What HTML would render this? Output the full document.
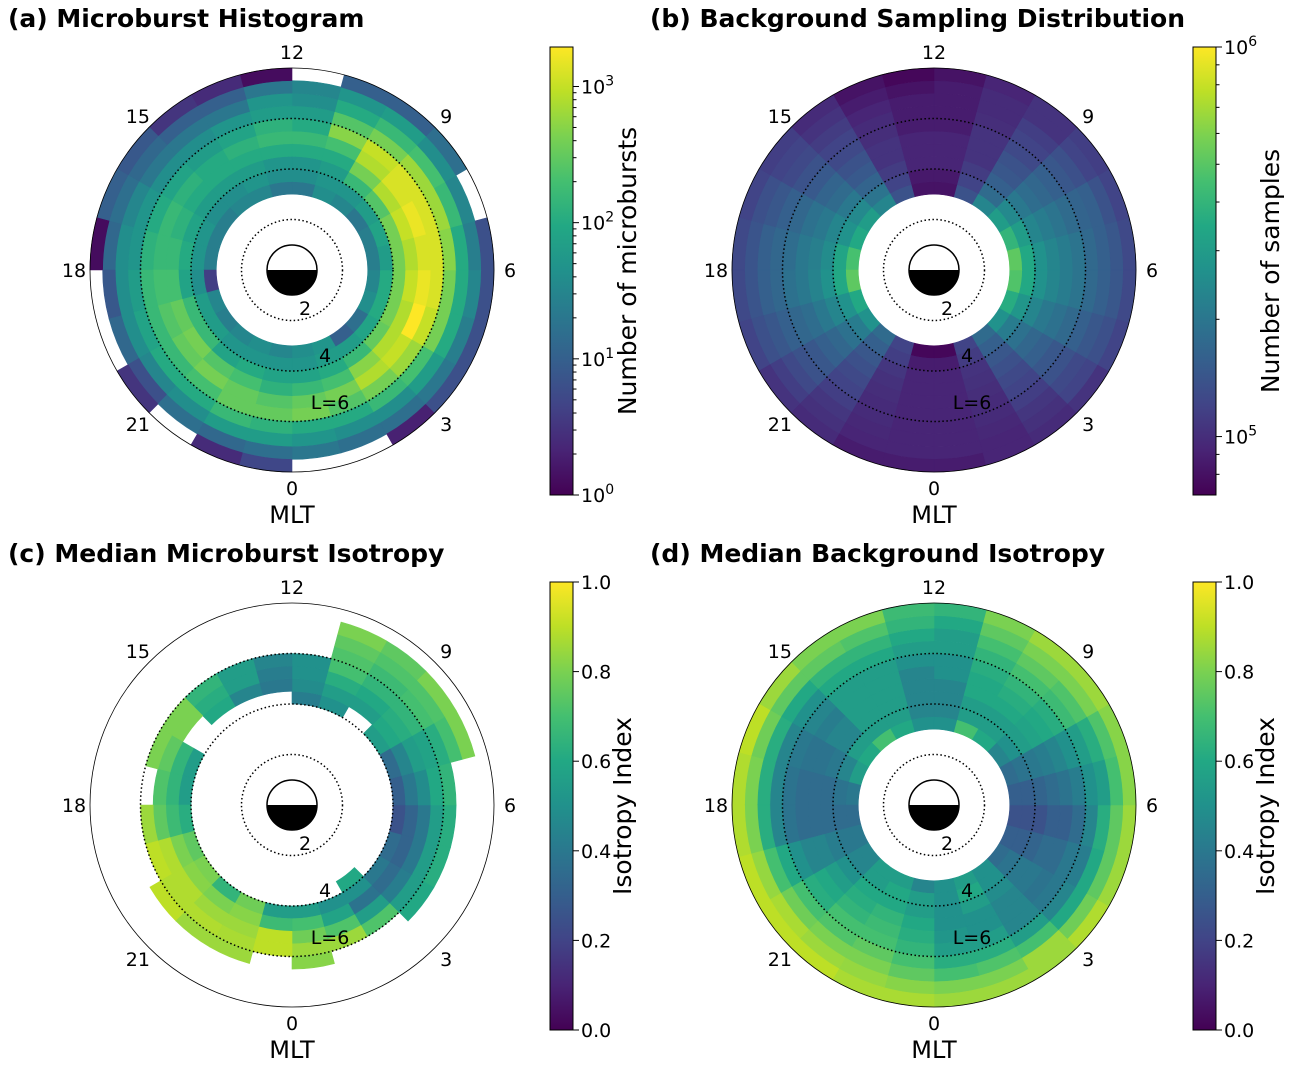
<!DOCTYPE html>
<html><head><meta charset="utf-8"><style>
html,body{margin:0;padding:0;background:#fff}
svg{display:block;font-family:"DejaVu Sans","Liberation Sans",sans-serif}
</style></head><body>
<svg id="fig" width="1292" height="1068" viewBox="0 0 1292 1068" xmlns="http://www.w3.org/2000/svg">
<defs>
<linearGradient id="viridis" x1="0" y1="1" x2="0" y2="0">
<stop offset="0" stop-color="#440154"/><stop offset="0.1" stop-color="#482475"/><stop offset="0.2" stop-color="#414487"/><stop offset="0.3" stop-color="#355f8d"/><stop offset="0.4" stop-color="#2a788e"/><stop offset="0.5" stop-color="#21918c"/><stop offset="0.6" stop-color="#22a884"/><stop offset="0.7" stop-color="#44bf70"/><stop offset="0.8" stop-color="#7ad151"/><stop offset="0.9" stop-color="#bddf26"/><stop offset="1" stop-color="#fde725"/>
</linearGradient>
</defs>
</svg>
<script>
// ---- data: rows indexed by MLT bin (0..23), columns by L bin (L=3..8 in 0.5 steps)
const mltTicks = [12, 9, 6, 3, 0, 21, 18, 15];
const lEdges = [3, 3.5, 4, 4.5, 5, 5.5, 6, 6.5, 7, 7.5, 8];
const dottedL = [2, 4, 6];
// (a) log10 microburst counts
const aLogCounts = [
[1.6,1.7,1.9,2.2,2.5,2.6,2.0,1.7,1.3,null],
[1.7,1.8,2.0,2.3,2.6,2.4,2.0,1.6,1.2,null],
[1.0,1.8,2.2,2.7,2.9,2.6,2.2,1.6,1.2,0.3],
[1.2,1.9,2.5,2.9,3.0,2.8,2.3,1.8,1.3,0.8],
[1.6,2.0,2.6,2.9,3.3,3.0,2.6,2.0,1.4,0.8],
[1.5,2.0,2.6,3.0,3.2,3.1,2.6,2.0,1.5,0.8],
[1.4,1.8,2.6,2.9,3.1,3.1,2.7,2.0,1.4,0.8],
[1.4,1.9,2.6,3.0,3.2,3.1,2.8,2.2,1.5,null],
[1.3,1.8,2.4,2.9,3.1,3.1,2.8,2.3,1.6,1.2],
[1.5,1.7,2.2,2.6,2.9,3.0,2.6,2.2,1.8,1.0],
[1.6,1.7,1.8,2.0,2.3,2.7,2.4,2.0,1.7,1.0],
[1.3,1.6,1.7,2.0,2.2,2.0,1.8,1.6,1.5,null],
[1.3,1.6,1.7,2.0,2.2,2.1,1.8,1.7,1.3,0.1],
[1.5,1.7,1.8,2.0,2.1,1.9,1.7,1.3,1.0,0.4],
[1.5,1.6,1.8,2.0,2.0,1.8,1.6,1.3,1.0,0.5],
[1.4,1.6,1.8,2.0,2.1,1.9,1.6,1.3,1.1,0.9],
[1.4,1.7,1.9,2.1,2.2,2.0,1.7,1.5,1.2,1.0],
[1.4,1.7,2.0,2.2,2.2,2.1,1.7,1.6,1.1,0.1],
[0.6,1.6,1.9,2.3,2.3,2.2,1.8,1.6,0.9,null],
[1.5,1.8,2.2,2.5,2.4,2.2,1.9,1.6,1.1,null],
[1.4,1.8,2.2,2.6,2.5,2.2,2.0,1.5,0.8,0.5],
[1.5,1.7,1.9,2.4,2.6,2.3,2.0,1.6,1.2,null],
[1.6,1.7,2.0,2.3,2.5,2.5,2.2,1.8,1.1,0.4],
[1.5,1.7,1.9,2.1,2.4,2.5,2.1,1.8,1.2,0.7]
];
// (b) log10 background samples
const bLogSamples = [
[4.87,4.94,4.97,4.97,4.97,4.97,4.97,4.97,4.97,4.94],
[5.08,5.05,5.02,5.01,5.0,4.99,4.99,4.98,4.97,4.97],
[5.25,5.2,5.16,5.13,5.1,5.08,5.06,5.03,5.01,4.99],
[5.43,5.33,5.28,5.23,5.2,5.16,5.14,5.1,5.08,5.02],
[5.56,5.45,5.37,5.31,5.28,5.24,5.2,5.16,5.13,5.08],
[5.68,5.54,5.43,5.37,5.33,5.29,5.24,5.2,5.16,5.1],
[5.71,5.54,5.43,5.37,5.33,5.29,5.24,5.2,5.16,5.1],
[5.6,5.48,5.37,5.33,5.29,5.25,5.22,5.2,5.14,5.08],
[5.48,5.39,5.31,5.26,5.23,5.2,5.16,5.13,5.08,5.06],
[5.37,5.25,5.2,5.16,5.14,5.1,5.08,5.06,5.02,5.02],
[5.14,5.08,5.05,5.02,5.02,5.02,5.0,4.99,4.99,4.97],
[4.91,4.93,4.97,4.97,4.97,4.94,4.94,4.94,4.94,4.91],
[4.91,4.93,4.97,4.97,4.97,4.94,4.94,4.94,4.91,4.87],
[5.14,5.08,5.05,5.02,5.02,5.0,4.99,4.97,4.94,4.91],
[5.37,5.29,5.22,5.17,5.14,5.1,5.08,5.05,5.02,4.99],
[5.48,5.39,5.31,5.25,5.22,5.17,5.14,5.1,5.08,5.06],
[5.54,5.43,5.37,5.31,5.28,5.23,5.2,5.16,5.13,5.08],
[5.66,5.52,5.4,5.34,5.31,5.26,5.23,5.2,5.15,5.1],
[5.71,5.54,5.43,5.36,5.31,5.28,5.23,5.2,5.15,5.1],
[5.54,5.43,5.37,5.31,5.26,5.23,5.2,5.16,5.13,5.08],
[5.43,5.33,5.28,5.23,5.2,5.16,5.14,5.1,5.06,5.02],
[5.25,5.2,5.16,5.13,5.1,5.08,5.06,5.03,5.01,4.99],
[5.08,5.06,5.03,5.01,5.0,4.99,4.99,4.98,4.97,4.94],
[4.87,4.94,4.97,4.97,4.97,4.97,4.97,4.97,4.97,4.94]
];
// (c) median microburst isotropy
const cIsotropy = [
[null,null,0.55,0.7,0.78,0.85,0.82,null,null,null],
[null,null,0.5,0.58,0.72,0.85,null,null,null,null],
[null,0.6,0.5,0.38,0.55,0.72,null,null,null,null],
[null,null,0.4,0.35,0.42,0.55,0.6,null,null,null],
[null,null,0.35,0.32,0.4,0.55,0.62,null,null,null],
[null,null,0.25,0.32,0.4,0.55,0.62,null,null,null],
[null,null,0.3,0.4,0.48,0.6,0.65,null,null,null],
[null,null,0.35,0.45,0.55,0.58,0.62,0.7,0.8,null],
[null,null,0.55,0.6,0.62,0.65,0.7,0.72,0.8,null],
[null,null,null,0.55,0.6,0.65,0.68,0.72,0.75,null],
[null,null,0.5,0.55,0.62,0.7,0.72,0.75,0.8,null],
[null,null,0.42,0.48,0.5,0.5,null,null,null,null],
[null,null,null,0.4,0.42,0.45,null,null,null,null],
[null,null,null,0.45,0.55,0.55,null,null,null,null],
[null,null,null,0.6,0.62,0.65,null,null,null,null],
[null,null,null,null,0.8,0.8,null,null,null,null],
[null,null,0.55,0.65,0.75,0.8,null,null,null,null],
[null,null,0.55,0.65,0.72,null,null,null,null,null],
[null,null,0.62,0.68,0.75,0.85,null,null,null,null],
[null,null,0.75,0.8,0.88,0.9,null,null,null,null],
[null,null,0.8,0.82,0.88,0.88,0.9,null,null,null],
[null,null,0.65,0.8,0.85,0.88,0.85,null,null,null],
[null,null,0.78,0.82,0.85,0.87,0.85,null,null,null],
[null,null,0.55,0.68,0.9,0.9,null,null,null,null]
];
// (d) median background isotropy
const dIsotropy = [
[0.5,0.5,0.5,0.5,0.52,0.55,0.62,0.7,0.8,0.85],
[0.55,0.6,0.55,0.5,0.5,0.55,0.62,0.72,0.8,0.85],
[0.5,0.5,0.48,0.45,0.45,0.45,0.55,0.7,0.85,0.85],
[0.35,0.38,0.4,0.4,0.38,0.4,0.45,0.6,0.78,0.88],
[0.3,0.3,0.32,0.35,0.35,0.4,0.42,0.6,0.75,0.85],
[0.25,0.25,0.25,0.3,0.3,0.35,0.45,0.62,0.75,0.85],
[0.3,0.3,0.32,0.35,0.38,0.42,0.5,0.55,0.7,0.82],
[0.35,0.38,0.4,0.42,0.45,0.5,0.55,0.62,0.72,0.82],
[0.45,0.5,0.55,0.58,0.6,0.62,0.68,0.72,0.8,0.85],
[0.6,0.55,0.55,0.6,0.62,0.65,0.7,0.75,0.8,0.85],
[0.7,0.55,0.55,0.6,0.6,0.62,0.65,0.7,0.75,0.8],
[0.5,0.45,0.45,0.45,0.5,0.5,0.55,0.55,0.6,0.65],
[0.5,0.45,0.45,0.45,0.45,0.5,0.55,0.6,0.65,0.68],
[0.6,0.55,0.55,0.55,0.55,0.55,0.6,0.65,0.72,0.8],
[0.7,0.55,0.55,0.55,0.55,0.55,0.6,0.65,0.75,0.8],
[0.6,0.55,0.45,0.45,0.42,0.45,0.5,0.6,0.75,0.85],
[0.55,0.45,0.4,0.38,0.38,0.4,0.45,0.62,0.78,0.9],
[0.4,0.38,0.35,0.35,0.35,0.38,0.45,0.62,0.8,0.88],
[0.35,0.35,0.35,0.35,0.35,0.38,0.45,0.62,0.8,0.88],
[0.4,0.4,0.42,0.45,0.45,0.5,0.6,0.7,0.84,0.9],
[0.45,0.45,0.5,0.55,0.6,0.62,0.7,0.78,0.87,0.9],
[0.55,0.55,0.6,0.62,0.65,0.7,0.72,0.8,0.85,0.9],
[0.55,0.6,0.6,0.65,0.68,0.7,0.75,0.8,0.84,0.87],
[0.45,0.55,0.55,0.6,0.62,0.65,0.7,0.75,0.82,0.87]
];
const aTicks = [0, 1, 2, 3];
const bTicks = [5, 6];
const isoTicks = [0, 0.2, 0.4, 0.6, 0.8, 1.0];

// ---- rendering
const NS = 'http://www.w3.org/2000/svg';
const svg = document.getElementById('fig');
const VIR = ['#440154','#482475','#414487','#355f8d','#2a788e','#21918c','#22a884','#44bf70','#7ad151','#bddf26','#fde725'];
function hex(h){return [parseInt(h.substr(1,2),16),parseInt(h.substr(3,2),16),parseInt(h.substr(5,2),16)];}
function viridis(t){
  t = Math.max(0, Math.min(1, t));
  const f = t*10, i = Math.min(9, Math.floor(f)), u = f - i;
  const a = hex(VIR[i]), b = hex(VIR[i+1]);
  return 'rgb(' + a.map((v,k)=>Math.round(v+(b[k]-v)*u)).join(',') + ')';
}
function mk(tag, attrs, parent){
  const e = document.createElementNS(NS, tag);
  for (const k in attrs) e.setAttribute(k, attrs[k]);
  (parent || svg).appendChild(e);
  return e;
}
const RPL = 25.25; // px per L unit
const panels = [
  {cx:292, cy:270, data:aLogCounts, vmin:0, vmax:3.29, name:'microburst-histogram', cbx:550, cby:47},
  {cx:934, cy:270, data:bLogSamples, vmin:4.85, vmax:6.0, name:'background-sampling', cbx:1193, cby:47},
  {cx:292, cy:805, data:cIsotropy, vmin:0, vmax:1, name:'microburst-isotropy', cbx:550, cby:582},
  {cx:934, cy:805, data:dIsotropy, vmin:0, vmax:1, name:'background-isotropy', cbx:1193, cby:582}
];
function ang(mlt){ return (mlt - 6) * Math.PI / 12; }
function pt(cx, cy, r, mlt){ const a = ang(mlt); return [cx + r*Math.cos(a), cy - r*Math.sin(a)]; }
function sector(cx, cy, r0, r1, m0, m1){
  const p1 = pt(cx,cy,r1,m0), p2 = pt(cx,cy,r1,m1), p3 = pt(cx,cy,r0,m1), p4 = pt(cx,cy,r0,m0);
  return 'M'+p1+' A'+r1+','+r1+' 0 0 0 '+p2+' L'+p3+' A'+r0+','+r0+' 0 0 1 '+p4+' Z';
}
panels.forEach((p, pi) => {
  const g = mk('g', {});
  
  
  p.data.forEach((row, m) => {
    row.forEach((v, j) => {
      if (v === null) return;
      const c = viridis((v - p.vmin) / (p.vmax - p.vmin));
      const cell = mk('path', {d: sector(p.cx, p.cy, lEdges[j]*RPL, lEdges[j+1]*RPL, m, m+1), fill: c, stroke: c, 'stroke-width': 0.6}, g);
      
      
    });
  });
  const fr = mk('circle', {cx:p.cx, cy:p.cy, r:8*RPL, fill:'none', stroke:'#000', 'stroke-width':0.8});
  
  
  dottedL.forEach(L => {
    const dc = mk('circle', {cx:p.cx, cy:p.cy, r:L*RPL, fill:'none', stroke:'#000', 'stroke-width':1.5, 'stroke-dasharray':'1.5 2.5'});
    
    
  });
  const er = 25;
  const eg = mk('g', {});
  
  
  mk('path', {d:'M'+(p.cx-er)+','+p.cy+' A'+er+','+er+' 0 0 0 '+(p.cx+er)+','+p.cy+' Z', fill:'#000'}, eg);
  mk('circle', {cx:p.cx, cy:p.cy, r:er, fill:'none', stroke:'#000', 'stroke-width':1.5}, eg);
  [['2',13,38],['4',33,85],['L=6',38,132]].forEach(([t,dx,dy]) => {
    const tx = mk('text', {x:p.cx+dx, y:p.cy+dy+7, 'font-size':19, 'text-anchor':'middle'});
    tx.textContent = t;
    
    
  });
  mltTicks.forEach(m => {
    const q = pt(p.cx, p.cy, 218, m);
    const tx = mk('text', {x:q[0], y:q[1]+7, 'font-size':19, 'text-anchor':'middle'});
    tx.textContent = String(m);
    
    
  });
  const xl = mk('text', {x:p.cx, y:p.cy+253, 'font-size':24, 'text-anchor':'middle'});
  xl.textContent = 'MLT';
  
  
  const H = 448, W = 23;
  const cb = mk('rect', {x:p.cbx, y:p.cby, width:W, height:H, fill:'url(#viridis)', stroke:'#000', 'stroke-width':1});
  
  
  const yOf = v => p.cby + H - H*(v - p.vmin)/(p.vmax - p.vmin);
  function tick(v, len){ const y = yOf(v); mk('line', {x1:p.cbx+W, x2:p.cbx+W+len, y1:y, y2:y, stroke:'#000', 'stroke-width':1}); return y; }
  if (pi < 2) {
    const ticks = pi === 0 ? aTicks : bTicks;
    for (let d = Math.floor(p.vmin); d < p.vmax; d++) for (let k = 2; k < 10; k++) {
      const v = d + Math.log10(k);
      if (v > p.vmin && v < p.vmax) tick(v, 3.5);
    }
    ticks.forEach(e => {
      const y = tick(e, 6);
      const tx = mk('text', {x:p.cbx+W+8, y:y+7, 'font-size':19});
      tx.textContent = '10';
      const s = mk('tspan', {dy:-8, 'font-size':14}, tx);
      s.textContent = String(e);
      
      
    });
  } else {
    isoTicks.forEach(v => {
      const y = tick(v, 6);
      const tx = mk('text', {x:p.cbx+W+8, y:y+7, 'font-size':19});
      tx.textContent = v.toFixed(1);
      
      
    });
  }
});
[['(a) Microburst Histogram',8,27],['(b) Background Sampling Distribution',650,27],['(c) Median Microburst Isotropy',8,562],['(d) Median Background Isotropy',650,562]].forEach(([t,x,y]) => {
  const tx = mk('text', {x:x, y:y, 'font-size':25, 'font-weight':'bold'});
  tx.textContent = t;
  
  
});
[['Number of microbursts',628,271],['Number of samples',1271,271],['Isotropy Index',623,806],['Isotropy Index',1266,806]].forEach(([t,x,y]) => {
  const tx = mk('text', {x:0, y:0, 'font-size':25, 'text-anchor':'middle', transform:'translate('+(x+8)+','+y+') rotate(-90)'});
  tx.textContent = t;
  
  
});
</script>
</body></html>
